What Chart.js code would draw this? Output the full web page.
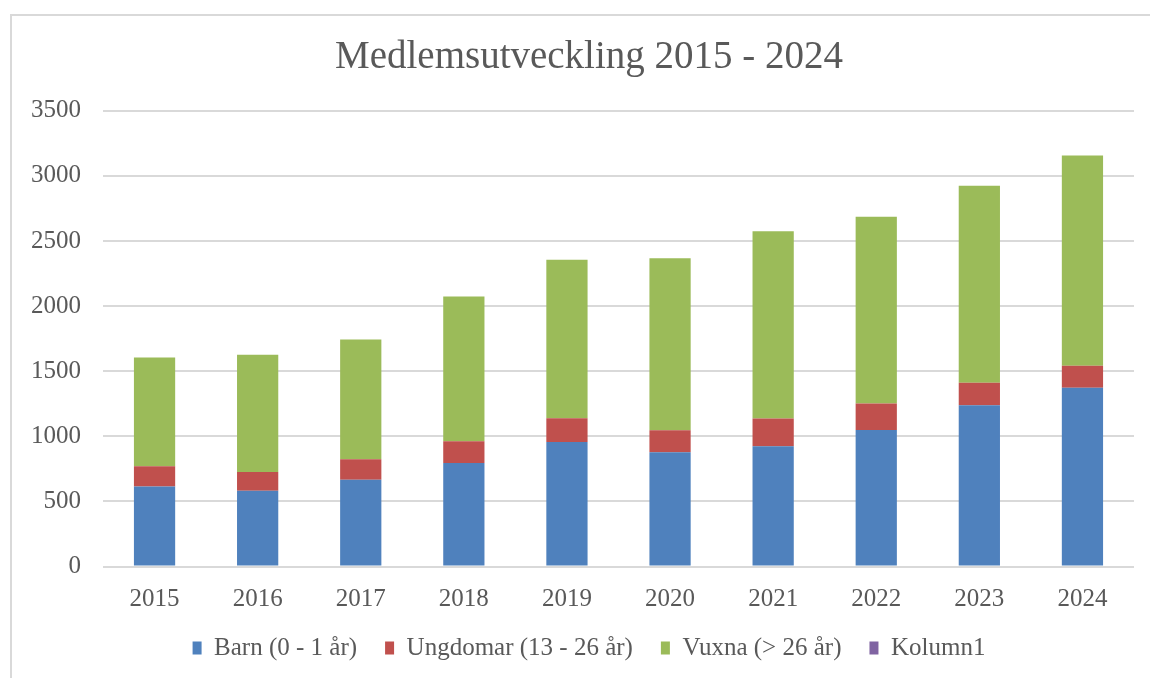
<!DOCTYPE html>
<html>
<head>
<meta charset="utf-8">
<script src="https://cdn.jsdelivr.net/npm/chart.js@4"></script>
<style>
  body { margin: 0; background: #fff; overflow: hidden; }
  #wrap {
    position: absolute; left: 10px; top: 14px;
    width: 1138px; height: 662px;
    border-left: 2px solid #d9d9d9; border-top: 2px solid #d9d9d9;
  }
</style>
</head>
<body>
<div id="wrap"><canvas id="chart" width="1138" height="662"></canvas></div>
<script>
// Years on the x axis
const years = ['2015', '2016', '2017', '2018', '2019', '2020', '2021', '2022', '2023', '2024'];

// Members per age group
const barn = [615, 582, 667, 795, 956, 877, 924, 1049, 1239, 1373];
const ungdomar = [155, 144, 156, 167, 182, 169, 212, 203, 172, 169];
const vuxna = [836, 900, 921, 1112, 1218, 1321, 1439, 1434, 1514, 1615];
const kolumn1 = [null, null, null, null, null, null, null, null, null, null];

const textColor = '#595959';
const serif = "'Liberation Serif', 'Times New Roman', serif";

const ctx = document.getElementById('chart').getContext('2d');
const myChart = new Chart(ctx, {
  type: 'bar',
  data: {
    labels: years,
    datasets: [
      { label: 'Barn (0 - 1 år)', data: barn, backgroundColor: '#4F81BD' },
      { label: 'Ungdomar (13 - 26 år)', data: ungdomar, backgroundColor: '#C0504D' },
      { label: 'Vuxna (> 26 år)', data: vuxna, backgroundColor: '#9BBB59' },
      { label: 'Kolumn1', data: kolumn1, backgroundColor: '#8064A2' }
    ]
  },
  options: {
    responsive: false,
    animation: false,
    layout: {
      padding: { left: 16, right: 0, top: 0, bottom: 7.5 }
    },
    datasets: {
      bar: { barPercentage: 0.4, categoryPercentage: 1.0 }
    },
    scales: {
      x: {
        stacked: true,
        grid: { display: false },
        border: { display: false },
        ticks: { color: textColor, font: { family: serif, size: 25 }, padding: 10 },
        afterFit: scale => { scale.height = 41; }
      },
      y: {
        stacked: true,
        min: 0,
        max: 3500,
        grid: { color: '#d9d9d9', lineWidth: 2, drawTicks: false },
        border: { display: false },
        ticks: {
          stepSize: 500,
          color: textColor,
          font: { family: serif, size: 25 },
          padding: 22,
          callback: value => String(value)
        },
        afterFit: scale => { scale.width = 75; }
      },
      // empty spacer on the right so the plot ends where the reference does
      spacer: {
        position: 'right',
        grid: { display: false },
        border: { display: false },
        ticks: { display: false },
        afterFit: scale => { scale.width = 16; }
      }
    },
    plugins: {
      title: {
        display: true,
        text: 'Medlemsutveckling 2015 - 2024',
        color: textColor,
        font: { family: serif, size: 39, weight: 'normal' },
        padding: { top: 18, bottom: 30 }
      },
      legend: {
        position: 'bottom',
        labels: {
          color: textColor,
          font: { family: serif, size: 25 },
          boxWidth: 9,
          boxHeight: 13,
          padding: 28
        }
      },
      tooltip: { enabled: false }
    }
  }
});
</script>
</body>
</html>
